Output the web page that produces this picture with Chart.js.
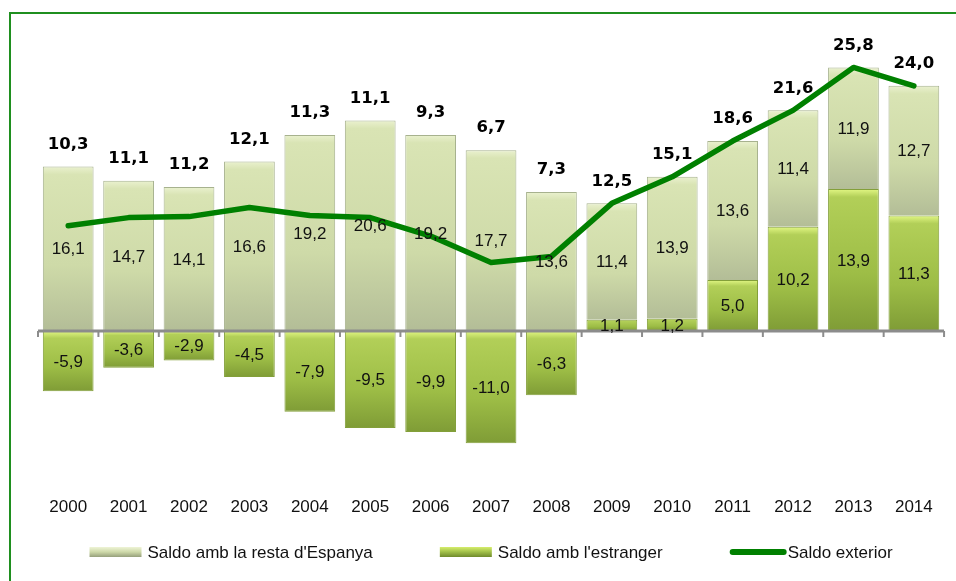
<!DOCTYPE html>
<html><head><meta charset="utf-8">
<script src="https://cdn.jsdelivr.net/npm/chart.js@4.4.1/dist/chart.umd.min.js"></script>
<style>
html,body{margin:0;padding:0;background:#fff;}
#wrap{position:relative;width:956px;height:581px;overflow:hidden;}
#frame{position:absolute;left:9px;top:12px;right:-10px;bottom:-10px;border-top:2px solid #1f8f1f;border-left:2px solid #1f8f1f;pointer-events:none;}
canvas{position:absolute;left:0;top:0;}
</style></head><body>
<div id="wrap"><canvas id="c" width="956" height="581"></canvas><div id="frame"></div></div>
<script>
const years = ['2000','2001','2002','2003','2004','2005','2006','2007','2008','2009','2010','2011','2012','2013','2014'];
const restaEspanya = [16.1,14.7,14.1,16.6,19.2,20.6,19.2,17.7,13.6,11.4,13.9,13.6,11.4,11.9,12.7];
const estranger = [-5.9,-3.6,-2.9,-4.5,-7.9,-9.5,-9.9,-11.0,-6.3,1.1,1.2,5.0,10.2,13.9,11.3];
const saldoExterior = [10.3,11.1,11.2,12.1,11.3,11.1,9.3,6.7,7.3,12.5,15.1,18.6,21.6,25.8,24.0];
const seriesNames = ["Saldo amb la resta d'Espanya", "Saldo amb l'estranger", "Saldo exterior"];

const fmt = v => v.toFixed(1).replace('.', ',');

function segGradient(c, kind) {
  const chart = c.chart;
  const solid = kind === 'est' ? '#a3c24c' : '#ccd8a6';
  if (c.type !== 'data' || !chart.chartArea) return solid;
  const y = chart.scales.y; const i = c.dataIndex;
  let lo, hi;
  if (kind === 'est') { lo = 0; hi = estranger[i]; }
  else { lo = estranger[i] > 0 ? estranger[i] : 0; hi = lo + restaEspanya[i]; }
  const pTop = y.getPixelForValue(Math.max(lo, hi));
  const pBot = y.getPixelForValue(Math.min(lo, hi));
  if (!isFinite(pTop) || !isFinite(pBot) || pBot - pTop < 1) return solid;
  const g = chart.ctx.createLinearGradient(0, pTop, 0, pBot);
  if (kind === 'est') {
    g.addColorStop(0, '#e2f784');
    g.addColorStop(Math.min(0.12, 8 / (pBot - pTop)), '#b2cf58');
    g.addColorStop(0.6, '#9dbd46');
    g.addColorStop(1, '#7f9c36');
  } else {
    g.addColorStop(0, '#eaf1cf');
    g.addColorStop(Math.min(0.12, 8 / (pBot - pTop)), '#d9e4b4');
    g.addColorStop(0.6, '#cedaa8');
    g.addColorStop(1, '#b3bd97');
  }
  return g;
}

const labelPlugin = {
  id: 'customLabels',
  afterDatasetsDraw(chart) {
    const ctx = chart.ctx, ys = chart.scales.y, area = chart.chartArea;
    const y0 = ys.getPixelForValue(0);
    ctx.save();
    ctx.strokeStyle = '#8c8c8c';
    ctx.lineWidth = 3;
    ctx.beginPath(); ctx.moveTo(area.left, y0); ctx.lineTo(area.right, y0); ctx.stroke();
    ctx.lineWidth = 2;
    const n = years.length, step = (area.right - area.left) / n;
    for (let i = 0; i <= n; i++) {
      const xp = area.left + i * step;
      ctx.beginPath(); ctx.moveTo(xp, y0); ctx.lineTo(xp, y0 + 6); ctx.stroke();
    }
    // segment labels
    ctx.fillStyle = '#111';
    ctx.font = '17px "Liberation Sans", Arial, sans-serif';
    ctx.textAlign = 'center'; ctx.textBaseline = 'middle';
    const metaR = chart.getDatasetMeta(0), metaE = chart.getDatasetMeta(1);
    [[metaR, restaEspanya], [metaE, estranger]].forEach(([meta, vals]) => {
      meta.data.forEach((el, i) => {
        const p = el.getProps(['x', 'y', 'base'], true);
        ctx.fillText(fmt(vals[i]), p.x, (p.y + p.base) / 2 + 1);
      });
    });
    // totals
    ctx.fillStyle = '#000';
    ctx.font = 'bold 16.5px "DejaVu Sans", Verdana, sans-serif';
    metaR.data.forEach((el, i) => {
      const a = el.getProps(['x', 'y', 'base'], true);
      const b = metaE.data[i].getProps(['y', 'base'], true);
      const top = Math.min(a.y, a.base, b.y, b.base);
      ctx.fillText(fmt(saldoExterior[i]), a.x, top - 22);
    });
    ctx.restore();
  },
  afterDraw(chart) {
    const ctx = chart.ctx, area = chart.chartArea;
    ctx.save();
    ctx.font = '17px "Liberation Sans", Arial, sans-serif';
    ctx.textBaseline = 'middle'; ctx.textAlign = 'left';
    const boxW = 52, txtGap = 6, itemGap = 67, yc = 552;
    const widths = seriesNames.map(t => boxW + txtGap + ctx.measureText(t).width);
    const total = widths.reduce((a, b) => a + b, 0) + itemGap * (widths.length - 1);
    let x = (area.left + area.right) / 2 - total / 2;
    seriesNames.forEach((t, k) => {
      if (k < 2) {
        const g = ctx.createLinearGradient(0, yc - 5, 0, yc + 5);
        if (k === 0) { g.addColorStop(0, '#eef4d6'); g.addColorStop(0.5, '#cdd8a8'); g.addColorStop(1, '#96a07c'); }
        else { g.addColorStop(0, '#d6ee6c'); g.addColorStop(0.5, '#9fbe48'); g.addColorStop(1, '#6f8a2c'); }
        ctx.fillStyle = g;
        ctx.fillRect(x, yc - 5, boxW, 10);
      } else {
        ctx.strokeStyle = '#008000'; ctx.lineWidth = 6; ctx.lineCap = 'round';
        ctx.beginPath(); ctx.moveTo(x + 3, yc); ctx.lineTo(x + boxW + 2, yc); ctx.stroke();
      }
      ctx.fillStyle = '#111';
      ctx.fillText(t, x + boxW + txtGap, yc + 1);
      x += widths[k] + itemGap;
    });
    ctx.restore();
  }
};

new Chart(document.getElementById('c'), {
  data: {
    labels: years,
    datasets: [
      { type: 'bar', label: seriesNames[0], data: restaEspanya, order: 2, stack: 'bars',
        backgroundColor: c => segGradient(c, 'resta'), borderColor: '#a7b28e', borderWidth: 1,
        categoryPercentage: 0.84, barPercentage: 1 },
      { type: 'bar', label: seriesNames[1], data: estranger, order: 1, stack: 'bars',
        backgroundColor: c => segGradient(c, 'est'), borderColor: '#839f3a', borderWidth: 1,
        categoryPercentage: 0.84, barPercentage: 1 },
      { type: 'line', label: seriesNames[2], data: saldoExterior, order: 0, stack: 'line',
        borderColor: '#008000', borderWidth: 5.5, pointRadius: 0, tension: 0, fill: false,
        borderCapStyle: 'round', borderJoinStyle: 'round' }
    ]
  },
  options: {
    responsive: false, animation: false,
    layout: { padding: { left: 38, right: 7, top: 45, bottom: 40.6 } },
    plugins: { legend: { display: false }, tooltip: { enabled: false } },
    scales: {
      x: { stacked: true, grid: { display: false, drawTicks: false }, border: { display: false },
           ticks: { padding: 23, color: '#111', font: { family: '"Liberation Sans", Arial, sans-serif', size: 17 } } },
      y: { stacked: true, display: false, min: -14, max: 28 }
    }
  },
  plugins: [labelPlugin]
});
</script>
</body></html>
